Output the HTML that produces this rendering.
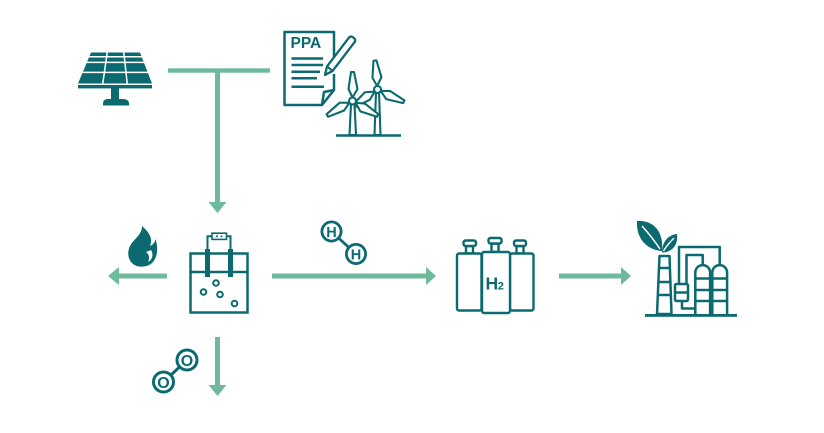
<!DOCTYPE html>
<html>
<head>
<meta charset="utf-8">
<style>
html,body{margin:0;padding:0;background:#fff;}
svg{display:block;}
text{font-family:"Liberation Sans",Arial,sans-serif;font-weight:bold;fill:#0b6a70;}
</style>
</head>
<body>
<svg width="824" height="433" viewBox="0 0 824 433" xmlns="http://www.w3.org/2000/svg">
<rect width="824" height="433" fill="#fff"/>

<!-- ===== Connectors (mint) ===== -->
<g fill="#6dba9c" stroke="none">
  <rect x="168" y="68.3" width="102" height="4.4"/>
  <rect x="215" y="70" width="5" height="134"/>
  <polygon points="208.5,202 226.5,202 217.5,213"/>
  <rect x="116" y="273.5" width="51" height="5"/>
  <polygon points="108,276 119,267 119,285"/>
  <rect x="272" y="273.5" width="156" height="5"/>
  <polygon points="436,276 426,267 426,285"/>
  <rect x="559" y="273.5" width="64" height="5"/>
  <polygon points="631,276 621,267 621,285"/>
  <rect x="215" y="337" width="5" height="49"/>
  <polygon points="208.5,385 226.5,385 217.5,396"/>
</g>

<!-- ===== Solar panel ===== -->
<g fill="#0b6a70">
  <polygon points="91,52.5 140,52.5 152,83.5 78,83.5"/>
  <g stroke="#fff" stroke-width="1.5">
    <line x1="75" y1="56.8" x2="155" y2="56.8"/>
    <line x1="75" y1="62.4" x2="155" y2="62.4"/>
    <line x1="75" y1="72.4" x2="155" y2="72.4"/>
    <line x1="107.3" y1="52" x2="102.7" y2="84"/>
    <line x1="123.7" y1="52" x2="127.3" y2="84"/>
  </g>
  <rect x="78" y="85" width="74" height="3.4"/>
  <rect x="111" y="88" width="8" height="11.5"/>
  <path d="M103,105.5 L103,103.5 Q103,99 108,99 L122,99 Q129,99 129,103.5 L129,105.5 Z"/>
</g>

<!-- ===== PPA document ===== -->
<g fill="none" stroke="#0b6a70" stroke-width="2.5" stroke-linejoin="round">
  <path d="M334,60 L334,32 L284.5,32 L284.5,105 L322,105 L334,90 L334,74"/>
  <path d="M334,90 L324,92 L322,105"/>
  <line x1="291.5" y1="58.5" x2="323" y2="58.5"/>
  <line x1="291.5" y1="65" x2="323" y2="65"/>
  <line x1="291.5" y1="71.7" x2="320" y2="71.7"/>
  <line x1="291.5" y1="78.3" x2="317" y2="78.3"/>
  <line x1="291.5" y1="86.7" x2="324" y2="86.7"/>
</g>
<text x="290.5" y="48" font-size="15.5">PPA</text>
<!-- pencil -->
<g transform="translate(325,75) rotate(-52.7)">
  <path d="M0,0 L8,-3.6 L44,-3.6 Q47,-3.6 47,0 Q47,3.6 44,3.6 L8,3.6 Z" fill="#fff" stroke="#0b6a70" stroke-width="2.3" stroke-linejoin="round"/>
  <line x1="8" y1="-3.6" x2="8" y2="3.6" stroke="#0b6a70" stroke-width="2"/>
</g>

<!-- ===== Wind turbines ===== -->
<g stroke="#0b6a70" stroke-width="2.1" fill="#fff" stroke-linejoin="round">
  <!-- turbine 2 (back) -->
  <polygon points="376,92 379,92 380.5,135 374.5,135"/>
  <g transform="translate(377.5,89.5)">
    <path d="M0,-3.5 L5,-12 L1.5,-29 L-1.5,-29 L-4,-12 Z" transform="rotate(-5)"/>
    <path d="M0,-3.5 L5,-12 L1.5,-29 L-1.5,-29 L-4,-12 Z" transform="rotate(115)"/>
    <path d="M0,-3.5 L5,-12 L1.5,-29 L-1.5,-29 L-4,-12 Z" transform="rotate(235)"/>
    <circle r="3.5"/>
  </g>
  <!-- turbine 1 (front) -->
  <polygon points="351,104 354.5,104 356,135 349.5,135"/>
  <g transform="translate(352.5,101)">
    <path d="M0,-3.5 L5,-12 L1.5,-29 L-1.5,-29 L-4,-12 Z"/>
    <path d="M0,-3.5 L5,-12 L1.5,-29 L-1.5,-29 L-4,-12 Z" transform="rotate(120)"/>
    <path d="M0,-3.5 L5,-12 L1.5,-29 L-1.5,-29 L-4,-12 Z" transform="rotate(240)"/>
    <circle r="3.5"/>
  </g>
  <line x1="336" y1="135.5" x2="401" y2="135.5" stroke-width="2.5"/>
</g>

<!-- ===== Flame ===== -->
<path d="M142,226 C150,233 153,239 150,246 C153,245 155,242 155.5,239 C158.5,248 157.5,258 152,263 C147,267.5 137,268 132.5,263.5 C126.5,258 127.5,249 131.5,243.5 C135.5,238 142,234 142,226 Z" fill="#0b6a70"/>
<path d="M151,250 C154,255 152,260 148,262 C150,258 149,254 146,252 Z" fill="#fff"/>

<!-- ===== Electrolyzer ===== -->
<g fill="none" stroke="#0b6a70" stroke-width="2.5">
  <rect x="190.5" y="253.5" width="57" height="59"/>
  <line x1="190" y1="272" x2="248" y2="272"/>
  <path d="M207.5,249 L207.5,236.3 L212,236.3" stroke-width="2"/>
  <path d="M230.5,249 L230.5,236.3 L226,236.3" stroke-width="2"/>
  <rect x="212" y="233.2" width="14.5" height="6.2" stroke-width="1.6"/>
  <g stroke-width="2">
    <circle cx="216" cy="283" r="2.8"/>
    <circle cx="203.5" cy="292" r="2.8"/>
    <circle cx="220" cy="294.5" r="2.8"/>
    <circle cx="234.5" cy="303.5" r="2.8"/>
  </g>
</g>
<rect x="205" y="249" width="5" height="28" fill="#0b6a70"/>
<rect x="228" y="249" width="5" height="28" fill="#0b6a70"/>
<rect x="216" y="235.5" width="2" height="1.6" fill="#0b6a70"/>
<rect x="220.5" y="235.5" width="2" height="1.6" fill="#0b6a70"/>

<!-- ===== O2 molecule ===== -->
<g fill="none" stroke="#0b6a70" stroke-width="3">
  <line x1="187" y1="360" x2="163.5" y2="382"/>
  <circle cx="187" cy="360" r="10" fill="#fff"/>
  <circle cx="163.5" cy="382" r="10" fill="#fff"/>
</g>
<text x="187" y="366" font-size="16" text-anchor="middle">O</text>
<text x="163.5" y="388" font-size="16" text-anchor="middle">O</text>

<!-- ===== H2 molecule ===== -->
<g fill="none" stroke="#0b6a70" stroke-width="2.8">
  <line x1="331.5" y1="231.5" x2="356" y2="254"/>
  <circle cx="331.5" cy="231.5" r="9.6" fill="#fff"/>
  <circle cx="356" cy="254" r="9.6" fill="#fff"/>
</g>
<text x="331.5" y="236.8" font-size="14.5" text-anchor="middle">H</text>
<text x="356" y="259.3" font-size="14.5" text-anchor="middle">H</text>

<!-- ===== H2 cylinders ===== -->
<g fill="#fff" stroke="#0b6a70" stroke-width="2.4" stroke-linejoin="round">
  <rect x="466" y="246" width="7" height="7.5"/>
  <rect x="463.5" y="240.5" width="12.5" height="5.5" rx="2"/>
  <rect x="516.5" y="246" width="7" height="7.5"/>
  <rect x="514" y="240.5" width="12" height="5.5" rx="2"/>
  <rect x="457" y="253.5" width="24.5" height="57" rx="2"/>
  <rect x="510" y="253.5" width="23.5" height="57" rx="2"/>
  <rect x="491.5" y="243.5" width="7" height="8.5"/>
  <rect x="488.5" y="238" width="13" height="5.5" rx="2"/>
  <rect x="482" y="252" width="28" height="61" rx="2"/>
</g>
<text x="485.5" y="289.3" font-size="17.5">H</text>
<text x="497.8" y="289.3" font-size="11">2</text>

<!-- ===== Factory ===== -->
<g fill="none" stroke="#0b6a70" stroke-width="2.5" stroke-linejoin="round">
  <polygon points="659.5,256 669.5,256 671.5,314 657,314"/>
  <line x1="658.5" y1="268" x2="670.5" y2="268"/>
  <line x1="658" y1="282" x2="671" y2="282"/>
  <line x1="657.5" y1="295" x2="671.5" y2="295"/>
  <path d="M695.3,314 L695.3,272.5 A7.4,7.4 0 0 1 710.1,272.5 L710.1,314"/>
  <path d="M712.3,314 L712.3,272.5 A7.4,7.4 0 0 1 727.1,272.5 L727.1,314"/>
  <line x1="695" y1="278.5" x2="710.5" y2="278.5"/>
  <line x1="695" y1="290" x2="710.5" y2="290"/>
  <line x1="695" y1="301" x2="710.5" y2="301"/>
  <line x1="712" y1="278.5" x2="727.5" y2="278.5"/>
  <line x1="712" y1="290" x2="727.5" y2="290"/>
  <line x1="712" y1="301" x2="727.5" y2="301"/>
  <polyline points="679,284 679,247 719.7,247 719.7,265"/>
  <polyline points="686.5,284 686.5,255 702.7,255 702.7,265"/>
  <rect x="675" y="284" width="13" height="17" rx="1.5" fill="#fff"/>
  <line x1="675" y1="292.5" x2="688" y2="292.5"/>
  <polyline points="682,301 682,308.5 695,308.5"/>
</g>
<rect x="645" y="314" width="92" height="2.8" fill="#0b6a70"/>
<!-- leaves -->
<path d="M637,221 C652,220 664,230 662,251 C648,250 636,240 637,221 Z" fill="#0b6a70"/>
<path d="M642,226 Q652,237 660,249" fill="none" stroke="#fff" stroke-width="1.5"/>
<path d="M677,234 C678.5,246 671,252.5 662,252.5 C662,243 667,235 677,234 Z" fill="#0b6a70"/>
<path d="M674,238 Q667,245 663.5,251" fill="none" stroke="#fff" stroke-width="1.4"/>
</svg>
</body>
</html>
